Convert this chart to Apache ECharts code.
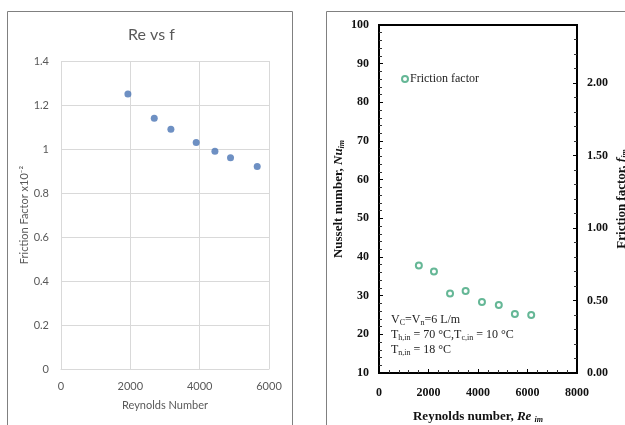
<!DOCTYPE html>
<html>
<head>
<meta charset="utf-8">
<script src="https://cdn.jsdelivr.net/npm/echarts@6/dist/echarts.min.js"></script>
<style>
  html, body { margin: 0; padding: 0; background: #fff; }
  #chart { width: 625px; height: 425px; }
</style>
</head>
<body>
<div id="chart"></div>
<script>
// left panel: Re vs f (excel style)
var leftRe = [1930, 2690, 3170, 3900, 4440, 4890, 5660];
var leftF = [1.25, 1.14, 1.09, 1.03, 0.99, 0.96, 0.92];

// right panel: friction factor vs Re_im
var rightRe = [1610, 2220, 2870, 3500, 4160, 4840, 5490, 6150];
var rightF = [0.742, 0.700, 0.549, 0.565, 0.489, 0.469, 0.407, 0.400];

var fTicks = ['0.00', '0.50', '1.00', '1.50', '2.00'];

var excelGray = '#595959';
var gridGray = '#d9d9d9';
var green = '#3fa57c';
var serif = '"Liberation Serif", "Times New Roman", serif';

var chart = echarts.init(document.getElementById('chart'));

function pairs(xs, ys) {
    return xs.map(function (x, i) { return [x, ys[i]]; });
}

function plain(v) {
    return String(Math.round(v * 10) / 10);
}

var subStyle = { fontFamily: serif, fontSize: 8, verticalAlign: 'bottom', lineHeight: 12 };
var nameRich = {
    i: { fontFamily: serif, fontSize: 13, fontWeight: 'bold', fontStyle: 'italic' },
    s: { fontFamily: serif, fontSize: 8, fontStyle: 'italic', verticalAlign: 'bottom', lineHeight: 14 }
};

var option = {
    backgroundColor: '#fff',
    animation: false,
    title: [{
        text: 'Re vs f',
        left: 123,
        top: 22,
        textStyle: { color: excelGray, fontFamily: 'Lato', fontSize: 16, fontWeight: 'normal' }
    }],
    legend: {
        data: ['Friction factor'],
        left: 396,
        top: 68,
        icon: 'emptyCircle',
        itemWidth: 6,
        itemHeight: 6,
        itemGap: 4,
        textStyle: { fontFamily: serif, fontSize: 12, color: '#222', padding: [0, 0, 0, -3] }
    },
    grid: [
        { left: 61, top: 61, width: 208, height: 308, outerBoundsMode: 'none' },
        { left: 379, top: 25, width: 198, height: 348, show: true, borderColor: '#000', borderWidth: 2, outerBoundsMode: 'none' }
    ],
    xAxis: [{
        gridIndex: 0,
        type: 'value',
        min: 0, max: 6000, interval: 2000,
        name: 'Reynolds Number',
        nameLocation: 'middle',
        nameGap: 31,
        nameTextStyle: { color: excelGray, fontFamily: 'Lato', fontSize: 11 },
        axisLine: { show: true, lineStyle: { color: gridGray } },
        axisTick: { show: false },
        axisLabel: { color: excelGray, fontFamily: 'Lato', fontSize: 11, margin: 12, formatter: plain },
        splitLine: { show: true, lineStyle: { color: gridGray } }
    }, {
        gridIndex: 1,
        type: 'value',
        min: 0, max: 8000, interval: 2000,
        name: 'Reynolds number, {i|Re} {s|im}',
        nameLocation: 'middle',
        nameGap: 37,
        nameTextStyle: { color: '#111', fontFamily: serif, fontSize: 13, fontWeight: 'bold', rich: nameRich },
        axisLine: { lineStyle: { color: '#000', width: 2 } },
        axisTick: { inside: true, length: 4, lineStyle: { color: '#000' } },
        minorTick: { show: true, splitNumber: 5, length: 3, lineStyle: { color: '#333' } },
        axisLabel: { color: '#111', fontFamily: serif, fontSize: 12, fontWeight: 'bold', margin: 14, formatter: plain },
        splitLine: { show: false }
    }],
    yAxis: [{
        gridIndex: 0,
        type: 'value',
        min: 0, max: 1.4, interval: 0.2,
        name: 'Friction Factor x10\u207B\u00B2',
        nameLocation: 'middle',
        nameRotate: 90,
        nameGap: 29,
        nameTextStyle: { color: excelGray, fontFamily: 'Lato', fontSize: 11 },
        axisLine: { show: false },
        axisTick: { show: false },
        axisLabel: { color: excelGray, fontFamily: 'Lato', fontSize: 11, margin: 12, formatter: plain },
        splitLine: { show: true, lineStyle: { color: gridGray } }
    }, {
        gridIndex: 1,
        type: 'value',
        position: 'left',
        min: 10, max: 100, interval: 10,
        name: 'Nusselt number, {i|Nu}{s|im}',
        nameLocation: 'middle',
        nameRotate: 90,
        nameGap: 33,
        nameTextStyle: { color: '#111', fontFamily: serif, fontSize: 13, fontWeight: 'bold', rich: nameRich },
        axisLine: { show: true, lineStyle: { color: '#000', width: 2 } },
        axisTick: { inside: true, length: 4, lineStyle: { color: '#000' } },
        minorTick: { show: true, splitNumber: 5, length: 3, lineStyle: { color: '#333' } },
        axisLabel: { color: '#111', fontFamily: serif, fontSize: 12, fontWeight: 'bold', margin: 10 },
        splitLine: { show: false }
    }, {
        gridIndex: 1,
        type: 'value',
        position: 'right',
        min: 0, max: 2.4, interval: 0.5,
        name: 'Friction factor, {i|f}{s|im}',
        nameLocation: 'middle',
        nameRotate: 90,
        nameGap: 38,
        nameTextStyle: { color: '#111', fontFamily: serif, fontSize: 13, fontWeight: 'bold', rich: nameRich },
        axisLine: { show: true, lineStyle: { color: '#000', width: 2 } },
        axisTick: { inside: true, length: 4, lineStyle: { color: '#000' } },
        minorTick: { show: true, splitNumber: 5, length: 3, lineStyle: { color: '#333' } },
        axisLabel: {
            color: '#111', fontFamily: serif, fontSize: 12, fontWeight: 'bold', margin: 10,
            showMaxLabel: false,
            formatter: function (v) {
                var i = Math.round(v / 0.5);
                return Math.abs(v - i * 0.5) < 1e-6 && fTicks[i] ? fTicks[i] : '';
            }
        },
        splitLine: { show: false }
    }],
    series: [{
        name: 'Re vs f',
        type: 'scatter',
        xAxisIndex: 0,
        yAxisIndex: 0,
        symbol: 'circle',
        symbolSize: 7,
        itemStyle: { color: '#4a74b4' },
        data: pairs(leftRe, leftF)
    }, {
        name: 'Friction factor',
        type: 'scatter',
        xAxisIndex: 1,
        yAxisIndex: 2,
        symbol: 'emptyCircle',
        symbolSize: 6,
        itemStyle: { color: green, borderColor: green, borderWidth: 1 },
        data: pairs(rightRe, rightF)
    }],
    graphic: [
        // panel frames
        { type: 'rect', shape: { x: 7.5, y: 11.5, width: 285, height: 430 }, style: { fill: 'none', stroke: '#808080', lineWidth: 1 }, silent: true, z: -1 },
        { type: 'rect', shape: { x: 326.5, y: 11.5, width: 320, height: 430 }, style: { fill: 'none', stroke: '#808080', lineWidth: 1 }, silent: true, z: -1 },
        {
            type: 'text',
            left: 391,
            top: 312,
            style: {
                text: 'V{s|C}=V{s|n}=6 L/m\nT{s|h,in} = 70 \u00B0C,T{s|c,in} = 10 \u00B0C\nT{s|n,in} = 18 \u00B0C',
                fontFamily: serif,
                fontSize: 12,
                lineHeight: 15,
                fill: '#222',
                rich: { s: subStyle }
            }
        }
    ]
};

chart.setOption(option);
</script>
</body>
</html>
